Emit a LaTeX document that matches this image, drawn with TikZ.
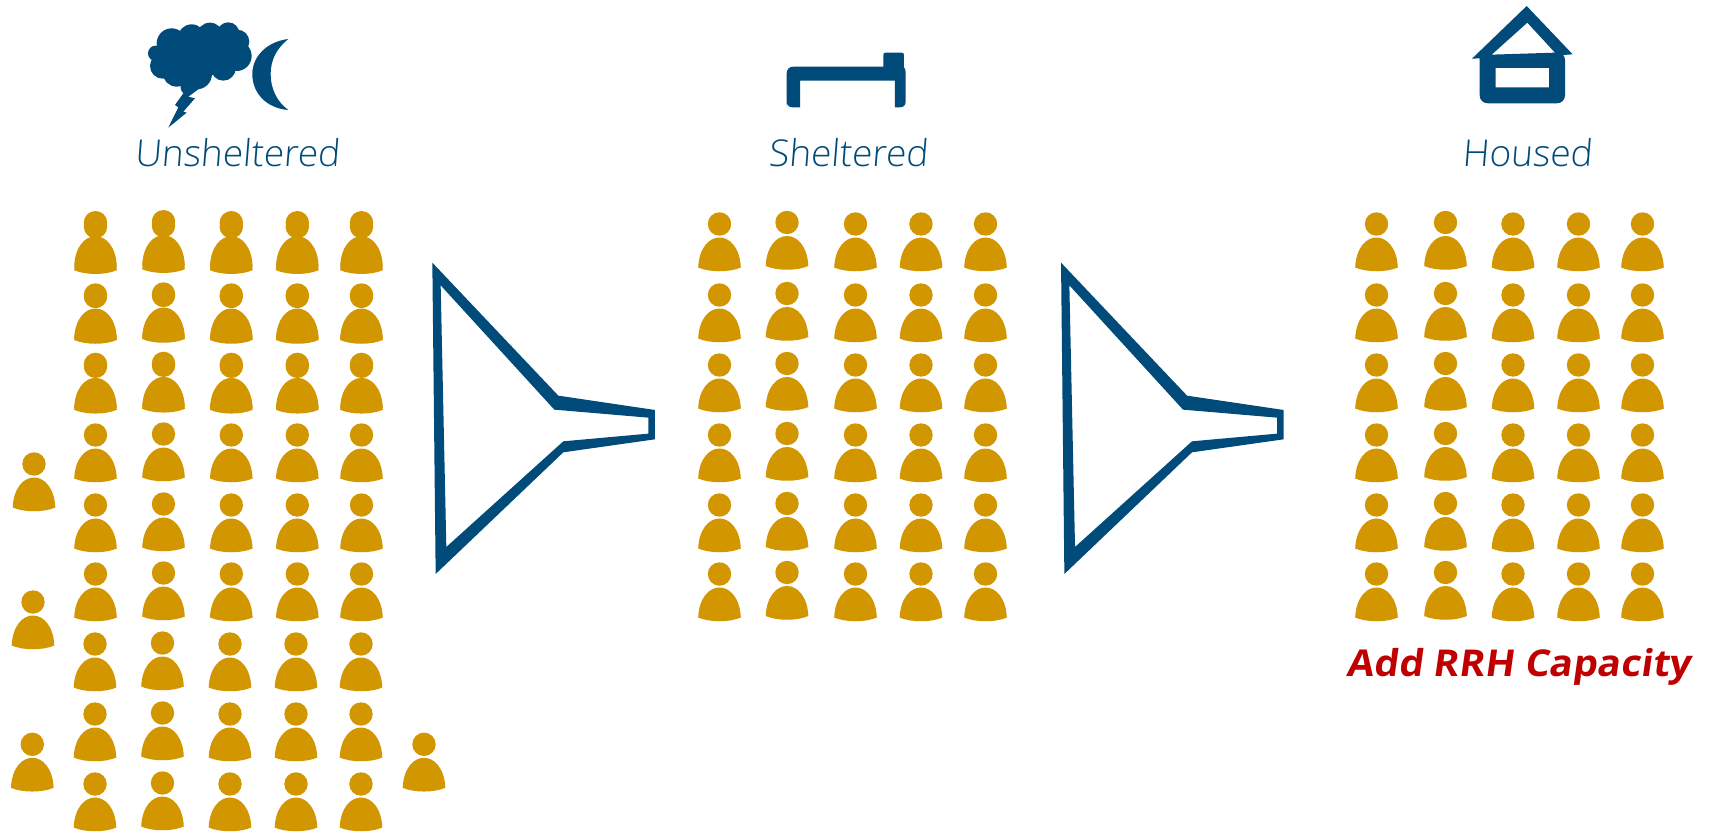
\documentclass[tikz,border=0pt]{standalone}
\usepackage{fontspec}
\setmainfont{Open Sans}
\newfontfamily\lblfont[UprightFont=* Light,FakeSlant=0.08]{Open Sans}
\newfontfamily\redfont[BoldFont=* Bold,FakeSlant=0.14,FakeStretch=1.05]{Open Sans}
\definecolor{navy}{HTML}{004B7A}
\definecolor{gold}{HTML}{D29600}
\definecolor{redtxt}{HTML}{C00000}
\tikzset{
  x=1pt,y=-1pt,
  zoomA/.style={shift={(120,0)},x=0.3333pt,y=-0.3333pt},
  lbl/.style={text=navy,inner sep=0pt,font=\lblfont\fontsize{37}{40}\selectfont},
  person/.pic={
    \fill[gold] (0,0) circle[radius=11.7];
    \fill[gold] (-21.3,43.5) .. controls (-20.5,24) and (-10.5,13.5) .. (0,13.5)
      .. controls (10.5,13.5) and (20.5,24) .. (21.3,43.5)
      .. controls (10,48.5) and (-10,48.5) .. cycle;
  }
}
% one row of people: y of the head, then x/dy pairs
\newcommand{\peoplerow}[2]{\foreach \px/\dy in {#2} \pic at (\px,#1+\dy) {person};}
\begin{document}
\begin{tikzpicture}
\useasboundingbox (0,0) rectangle (1709,832);
\fill[white] (0,0) rectangle (1709,832);
% cloud, bolt and moon
\begin{scope}[zoomA]
\fill[navy] (155,130) circle[radius=45] (215,115) circle[radius=42] (270,108) circle[radius=40]
 (325,100) circle[radius=33] (352,125) circle[radius=36] (350,168) circle[radius=45]
 (310,205) circle[radius=37] (230,222) circle[radius=46] (170,218) circle[radius=42]
 (128,198) circle[radius=38] (107,160) circle[radius=23] (220,170) circle[radius=75] (280,160) circle[radius=65];
\fill[navy] (180,240) -- (240,250) -- (235,268) -- (205,290) -- (225,295) -- (190,335) -- (200,338) -- (145,383)
 -- (175,322) -- (165,315) -- (190,280) -- (183,270) -- cycle;
\fill[navy] (505,117) .. controls (440,125) and (397,170) .. (397,222)
 .. controls (397,280) and (440,325) .. (505,330)
 .. controls (470,305) and (452,265) .. (452,222)
 .. controls (452,180) and (470,145) .. (505,117) -- cycle;
\end{scope}
% bed
\begin{scope}[shift={(740,30)},x=0.3333pt,y=-0.3333pt]
\fill[navy] (140,232) -- (140,130) .. controls (140,118) and (148,110) .. (160,110) -- (430,110) -- (430,76)
 .. controls (430,70) and (432,68) .. (438,68) -- (484,68) .. controls (490,68) and (492,70) .. (492,76)
 -- (492,112) .. controls (496,116) and (497,122) .. (497,128) -- (497,215) .. controls (497,226) and (490,232) .. (480,232)
 -- (465,232) -- (465,152) -- (180,152) -- (180,232) -- (158,232) .. controls (148,232) and (140,226) .. (140,215) -- cycle;
\end{scope}
% house
\begin{scope}[shift={(1440,0)},x=0.3333pt,y=-0.3333pt]
\fill[navy,even odd rule] (260,18) -- (398,163) -- (370,165) .. controls (373,170) and (375,175) .. (375,180)
 -- (375,285) .. controls (375,300) and (365,310) .. (350,310) -- (144,310) .. controls (129,310) and (119,300) .. (119,285)
 -- (119,175) -- (96,176) -- cycle
 (262,68) -- (345,158) -- (155,164) -- cycle
 (167,204) rectangle (327,262);
\end{scope}
% funnels
\foreach \fx in {420,1048.7}{
\begin{scope}[shift={(\fx,250)},x=0.3333pt,y=-0.3333pt]
\fill[navy,even odd rule] (37,38) -- (415,437) -- (705,480) -- (705,568) -- (430,607) -- (47,972) -- cycle
 (62,106) -- (403,479) -- (685,503) -- (685,551) -- (430,574) -- (79,891) -- cycle;
\end{scope}}
% labels
\node[lbl] (unsheltered) at (237,153) {Unsheltered};
\node[lbl] (sheltered) at (848,153) {Sheltered};
\node[lbl] (housed) at (1527,153) {Housed};
\node[text=redtxt,inner sep=0pt,font=\redfont\bfseries\fontsize{37}{40}\selectfont] (addrrh) at (1519,667) {Add RRH Capacity};
% people: unsheltered, the upper rows doubled with a small drop
\foreach \ry in {222.7,226.7,295,296.5,364.4,366.3,435,505,574}{\peoplerow{\ry}{95.5/0,163.5/-1,231.3/0,297.3/0,361.5/0}}
\foreach \ry in {644,714,784}{\peoplerow{\ry}{95/0,162.5/-1,230/0,296/0,361/0}}
\pic at (34,464) {person};
\pic at (33,602) {person};
\pic at (32.3,744.3) {person};
\pic at (424,744.3) {person};
% sheltered
\foreach \ry in {224,295,365,435,505,574}{\peoplerow{\ry}{719.5/0,787/-1.5,855.5/0,921/0,985.5/0}}
% housed
\foreach \ry in {224,295,365,435,505,574}{\peoplerow{\ry}{1376.5/0,1445.5/-1.5,1513/0,1578.5/0,1642.5/0}}
\end{tikzpicture}
\end{document}
